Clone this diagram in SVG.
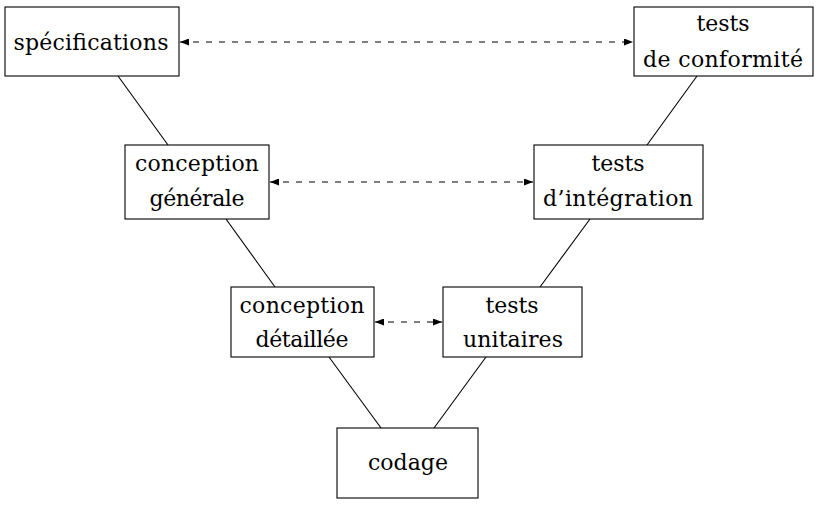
<svg xmlns="http://www.w3.org/2000/svg" width="823" height="506" viewBox="0 0 823 506">
<style>
.box{fill:#fff;stroke:#000;stroke-width:1.1}
.t{font-family:"DejaVu Serif","Liberation Serif","Noto Serif",Times,serif;font-size:22px;text-anchor:middle;fill:#000}
.ln{stroke:#000;stroke-width:1.1;fill:none}
.da{stroke:#000;stroke-width:1.1;fill:none;stroke-dasharray:6,7}
</style>
<defs>
<marker id="ah" viewBox="0 0 9 7" refX="9" refY="3.5" markerWidth="9" markerHeight="7" markerUnits="userSpaceOnUse" orient="auto-start-reverse">
<path d="M0,0 L9,3.5 L0,7 Z" fill="#000"/>
</marker>
</defs>
<g id="connectors">
<line class="ln" x1="118" y1="76" x2="168" y2="145"/>
<line class="ln" x1="697" y1="76" x2="647" y2="145"/>
<line class="ln" x1="226" y1="219" x2="275" y2="287"/>
<line class="ln" x1="590" y1="219" x2="540" y2="287"/>
<line class="ln" x1="329" y1="357" x2="381" y2="428"/>
<line class="ln" x1="486" y1="357" x2="434" y2="428"/>
<line class="da" x1="180" y1="42" x2="633" y2="42" marker-start="url(#ah)" marker-end="url(#ah)"/>
<line class="da" x1="270" y1="182" x2="533" y2="182" marker-start="url(#ah)" marker-end="url(#ah)"/>
<line class="da" x1="375" y1="322" x2="442" y2="322" marker-start="url(#ah)" marker-end="url(#ah)"/>
</g>
<g id="specifications">
<rect class="box" x="5" y="7" width="174" height="69"/>
<text class="t" x="91" y="50" textLength="155">spécifications</text>
</g>
<g id="conformite">
<rect class="box" x="634" y="7" width="179" height="69"/>
<text class="t" x="723" y="31" textLength="53">tests</text>
<text class="t" x="723" y="67" textLength="160">de conformité</text>
</g>
<g id="generale">
<rect class="box" x="125" y="145" width="144" height="74"/>
<text class="t" x="197" y="171" textLength="124">conception</text>
<text class="t" x="197" y="206" textLength="95">générale</text>
</g>
<g id="integration">
<rect class="box" x="534" y="145" width="169" height="74"/>
<text class="t" x="618" y="171" textLength="53">tests</text>
<text class="t" x="618" y="206" textLength="150">d’intégration</text>
</g>
<g id="detaillee">
<rect class="box" x="231" y="287" width="143" height="70"/>
<text class="t" x="302" y="313" textLength="125">conception</text>
<text class="t" x="302" y="347" textLength="93">détaillée</text>
</g>
<g id="unitaires">
<rect class="box" x="443" y="287" width="139" height="70"/>
<text class="t" x="512" y="313" textLength="53">tests</text>
<text class="t" x="513" y="347" textLength="100">unitaires</text>
</g>
<g id="codage">
<rect class="box" x="337" y="428" width="141" height="70"/>
<text class="t" x="408" y="470" textLength="80">codage</text>
</g>
</svg>
